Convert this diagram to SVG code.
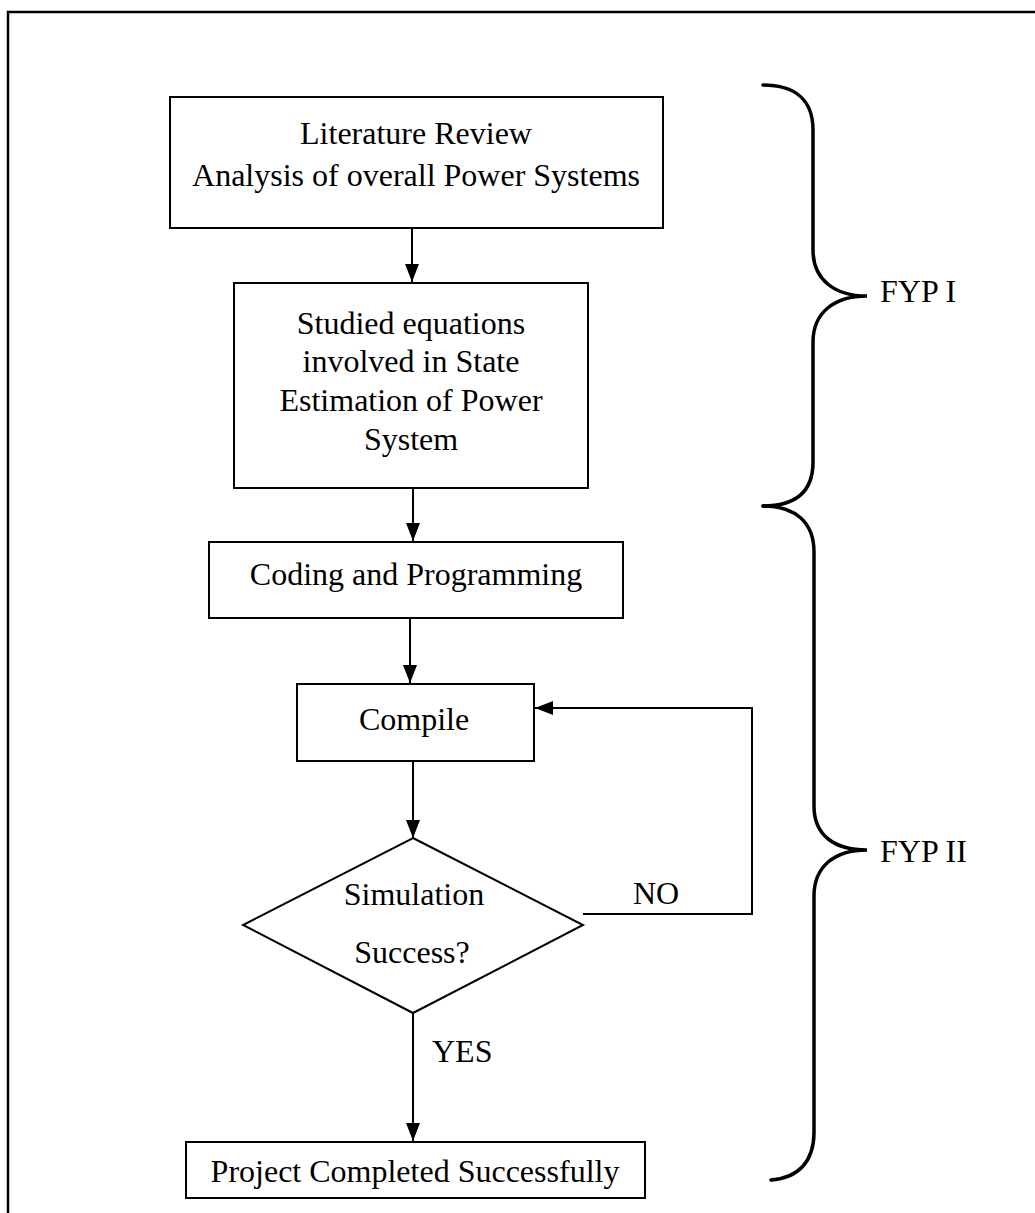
<svg xmlns="http://www.w3.org/2000/svg" width="1035" height="1213" viewBox="0 0 1035 1213">
<style>
  .box { fill: #fff; stroke: #000; stroke-width: 2; }
  .t { font-family: "Liberation Serif", "Times New Roman", serif; font-size: 32px; fill: #000; }
  .c { text-anchor: middle; }
  .line { fill: none; stroke: #000; stroke-width: 2; }
  .brace { fill: none; stroke: #000; stroke-width: 3.5; stroke-linecap: round; }
</style>
<defs>
  <marker id="ah" markerUnits="userSpaceOnUse" markerWidth="18" markerHeight="14" refX="18" refY="7" orient="auto">
    <path d="M0,0 L18,7 L0,14 z" fill="#000"/>
  </marker>
</defs>
<rect width="1035" height="1213" fill="#fff"/>
<g id="frame">
  <path d="M8,1213 L8,12 L1035,12" fill="none" stroke="#000" stroke-width="2.5"/>
</g>
<g id="n1">
  <rect class="box" x="170" y="97" width="493" height="131"/>
  <text class="t c" x="416" y="144">Literature Review</text>
  <text class="t c" x="416" y="186">Analysis of overall Power Systems</text>
</g>
<g id="n2">
  <rect class="box" x="234" y="283" width="354" height="205"/>
  <text class="t c" x="411" y="334">Studied equations</text>
  <text class="t c" x="411" y="372">involved in State</text>
  <text class="t c" x="411" y="411">Estimation of Power</text>
  <text class="t c" x="411" y="450">System</text>
</g>
<g id="n3">
  <rect class="box" x="209" y="542" width="414" height="76"/>
  <text class="t c" x="416" y="585">Coding and Programming</text>
</g>
<g id="n4">
  <rect class="box" x="297" y="684" width="237" height="77"/>
  <text class="t c" x="414" y="730">Compile</text>
</g>
<g id="n5">
  <polygon class="box" points="413,838 583,925 413,1013 243,925"/>
  <text class="t c" x="414" y="905">Simulation</text>
  <text class="t c" x="412" y="963">Success?</text>
</g>
<g id="n6">
  <rect class="box" x="186" y="1142" width="459" height="56"/>
  <text class="t c" x="415" y="1182">Project Completed Successfully</text>
</g>
<g id="connectors">
  <line class="line" x1="412" y1="228" x2="412" y2="282" marker-end="url(#ah)"/>
  <line class="line" x1="413" y1="488" x2="413" y2="541" marker-end="url(#ah)"/>
  <line class="line" x1="410" y1="618" x2="410" y2="683" marker-end="url(#ah)"/>
  <line class="line" x1="413" y1="761" x2="413" y2="838" marker-end="url(#ah)"/>
  <line class="line" x1="413" y1="1013" x2="413" y2="1141" marker-end="url(#ah)"/>
  <polyline class="line" points="583,914 752,914 752,708 535,708" marker-end="url(#ah)"/>
  <text class="t" x="633" y="904">NO</text>
  <text class="t" x="432" y="1062">YES</text>
</g>
<g id="brace1">
  <path class="brace" d="M763,85 C795,85 813,100 813,130 L813,250 C813,280 835,296 867,296 C835,296 813,312 813,342 L813,462 C813,492 795,506 763,506"/>
  <text class="t" x="880" y="302">FYP I</text>
</g>
<g id="brace2">
  <path class="brace" d="M763,506 C795,506 814,522 814,552 L814,806 C814,836 835,850 867,850 C835,850 814,866 814,896 L814,1132 C814,1162 798,1178 771,1180"/>
  <text class="t" x="880" y="862">FYP II</text>
</g>
</svg>
